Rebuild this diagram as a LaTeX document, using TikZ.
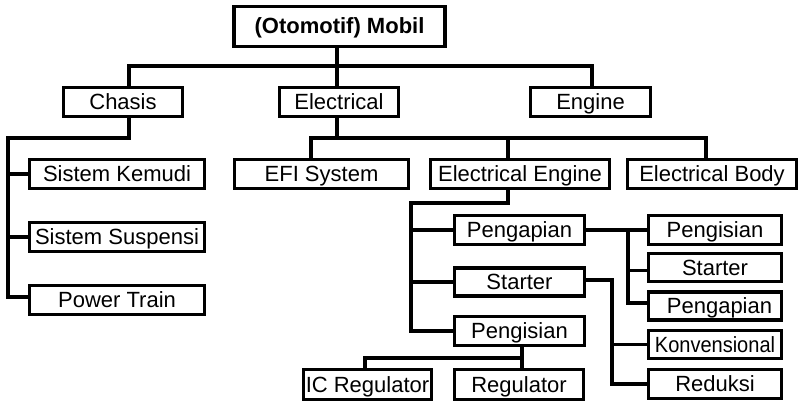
\documentclass[tikz,border=0pt]{standalone}
\usepackage{fontspec}
\setmainfont{Liberation Sans}
\newfontfamily\narrowsans[FakeStretch=0.91]{Liberation Sans}
\begin{document}
\begin{tikzpicture}[x=1pt,y=-1pt,
  box/.style={draw, line width=3.3pt, inner sep=0pt, text height=15pt, text depth=0pt,
              font=\fontsize{22}{26}\selectfont},
  link/.style={line width=3.3pt}]
\useasboundingbox (0,0) rectangle (805,403);

% root and first level
\node[box, minimum width=211pt, minimum height=40pt,
      font=\bfseries\fontsize{22}{26}\selectfont] (top) at (339.5,26.5) {(Otomotif) Mobil};
\node[box, minimum width=119pt, minimum height=29pt] (chasis) at (123,102) {Chasis\hspace{9pt}};
\node[box, minimum width=119pt, minimum height=29pt] (electrical) at (339,102) {Electrical};
\node[box, minimum width=120pt, minimum height=29pt] (engine) at (590.5,102) {Engine};

% chassis branch
\node[box, minimum width=175pt, minimum height=29pt] (kemudi) at (117,174) {Sistem Kemudi};
\node[box, minimum width=175pt, minimum height=29pt] (suspensi) at (117,237) {Sistem Suspensi};
\node[box, minimum width=175pt, minimum height=29pt] (power) at (117,300) {Power Train};

% electrical branch
\node[box, minimum width=174pt, minimum height=29pt] (efi) at (321.5,174) {EFI System\hspace{6pt}};
\node[box, minimum width=179pt, minimum height=29pt] (eeng) at (520,174) {Electrical Engine\hspace{6pt}};
\node[box, minimum width=169pt, minimum height=29pt] (ebody) at (712,174) {Electrical Body};

% electrical engine branch
\node[box, minimum width=130pt, minimum height=29pt] (mpengapian) at (519.5,230) {Pengapian};
\node[box, minimum width=130pt, minimum height=28pt] (mstarter) at (519.5,282) {Starter};
\node[box, minimum width=130pt, minimum height=29pt] (mpengisian) at (519.5,331) {Pengisian};

% charging branch
\node[box, minimum width=128pt, minimum height=30pt] (icreg) at (367.5,384.5) {IC Regulator};
\node[box, minimum width=129pt, minimum height=30pt] (regulator) at (519,384.5) {Regulator};

% right column
\node[box, minimum width=133pt, minimum height=29pt] (rpengisian) at (715,230) {Pengisian};
\node[box, minimum width=133pt, minimum height=28pt] (rstarter) at (715,267.5) {Starter};
\node[box, minimum width=133pt, minimum height=28pt] (rpengapian) at (715,306) {\hspace{9pt}Pengapian};
\node[box, minimum width=133pt, minimum height=28pt,
      font=\narrowsans\fontsize{22}{26}\selectfont] (konv) at (715,344.5) {Konvensional};
\node[box, minimum width=133pt, minimum height=29pt] (reduksi) at (715,384) {Reduksi};

% root connectors
\coordinate (busA) at (337,66);
\draw[link] ([xshift=6pt]chasis.north) |- (busA) -| ([xshift=1.5pt]engine.north);
\draw[link] ([xshift=-2.5pt]top.south) -- ([xshift=-2pt]electrical.north);

% chassis connectors
\coordinate (busB) at (8,138);
\draw[link] ([xshift=6pt]chasis.south) |- (busB) |- ([yshift=3pt]power.west);
\draw[link] (busB |- kemudi.west) -- (kemudi.west);
\draw[link] (busB |- suspensi.west) -- (suspensi.west);

% electrical connectors
\coordinate (busC) at (337,138);
\draw[link] ([xshift=-2pt]electrical.south) -- (busC);
\draw[link] ([xshift=-10.5pt]efi.north) |- (busC) -| ([xshift=-6pt]ebody.north);
\coordinate (eengTop) at ([xshift=-12pt]eeng.north);
\draw[link] (eengTop) -- (eengTop |- busC);

% electrical engine connectors
\coordinate (busD) at (411,203);
\draw[link] ([xshift=-12pt]eeng.south) |- (busD) |- (mpengisian.west);
\draw[link] (busD |- mpengapian.west) -- (mpengapian.west);
\draw[link] (busD |- mstarter.west) -- (mstarter.west);

% charging connectors
\coordinate (pgBot) at ([xshift=2.5pt]mpengisian.south);
\draw[link] (pgBot) -- (pgBot |- regulator.north);
\coordinate (busE) at (522,358);
\draw[link] ([xshift=-2.5pt]icreg.north) |- (busE);

% ignition connectors
\coordinate (busF) at (628,230);
\draw[link] (mpengapian.east) -- (rpengisian.west);
\draw[link] (busF) |- ([yshift=3pt]rpengapian.west);
\coordinate (rsB) at ([yshift=-3pt]rstarter.west);
\draw[link] (busF |- rsB) -- (rsB);

% starter connectors
\coordinate (busG) at (612,280);
\draw[link] ([yshift=2pt]mstarter.east) -- (busG) |- (reduksi.west);
\draw[link] (busG |- konv.west) -- (konv.west);
\end{tikzpicture}
\end{document}
